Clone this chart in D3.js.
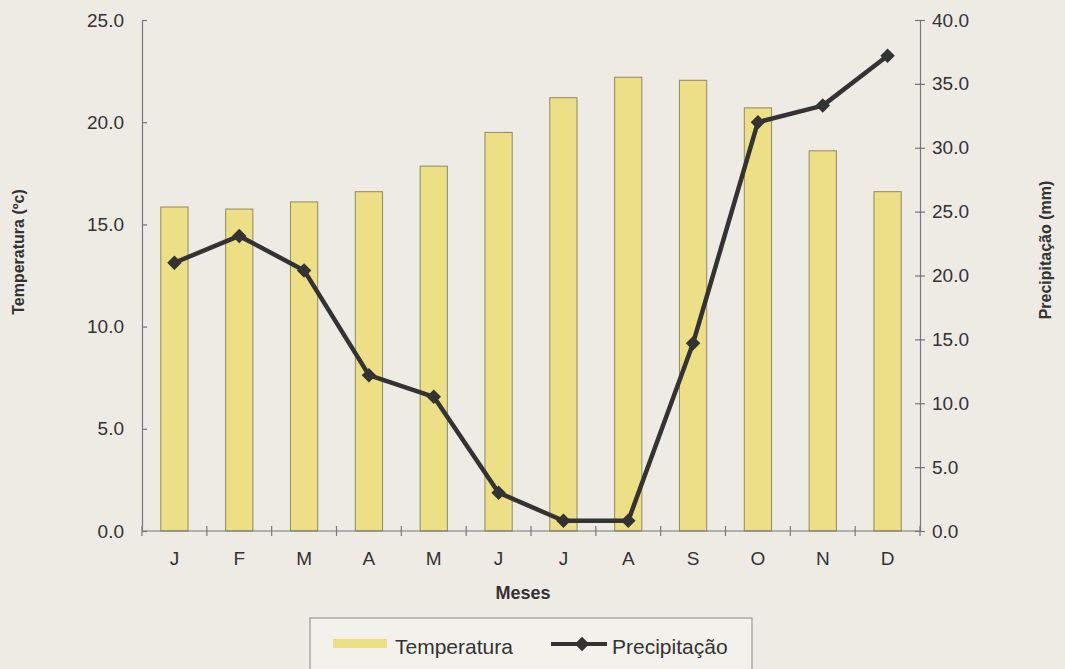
<!DOCTYPE html>
<meta charset="utf-8">
<style>
body { margin: 0; background: #eeebe5; }
svg { font-family: "Liberation Sans", Arial, sans-serif; }
.tick text { font-size: 19px; fill: #333; }
.axis path, .axis line { stroke: #777; stroke-width: 1.2; }
.title { font-size: 16px; font-weight: bold; fill: #333; }
</style>
<body>
<script src="https://d3js.org/d3.v7.min.js"></script>
<script>
var width = 1065
var height = 669

var months = ['J', 'F', 'M', 'A', 'M', 'J', 'J', 'A', 'S', 'O', 'N', 'D']
var temperatura = [15.85, 15.75, 16.1, 16.6, 17.85, 19.5, 21.2, 22.2, 22.05, 20.7, 18.6, 16.6]
var precipitacao = [21.0, 23.1, 20.4, 12.2, 10.5, 3.0, 0.8, 0.8, 14.7, 32.0, 33.3, 37.2]
var tempTicks = [0, 5, 10, 15, 20, 25]
var precTicks = [0, 5, 10, 15, 20, 25, 30, 35, 40]

var plotLeft = 142, plotRight = 920, plotTop = 20, plotBottom = 531

var svg = d3.select('body').append('svg')
    .attr('width', width)
    .attr('height', height)

var x = d3.scaleBand()
    .domain(d3.range(months.length))
    .range([plotLeft, plotRight])
    .paddingInner(0.58)
    .paddingOuter(0.29)

var xb = d3.scaleLinear().domain([0, months.length]).range([plotLeft, plotRight])

var yT = d3.scaleLinear().domain([0, 25]).range([plotBottom, plotTop])
var yP = d3.scaleLinear().domain([0, 40]).range([plotBottom, plotTop])

// bars
svg.append('g')
    .selectAll('rect')
    .data(temperatura)
    .enter().append('rect')
    .attr('x', function (d, i) { return x(i) })
    .attr('y', function (d) { return yT(d) })
    .attr('width', x.bandwidth())
    .attr('height', function (d) { return yT(0) - yT(d) })
    .attr('fill', '#ecdf86')
    .attr('stroke', '#8f8a62')
    .attr('stroke-width', 1)

// axes
var leftAxis = svg.append('g')
    .attr('class', 'axis')
    .attr('transform', 'translate(' + plotLeft + ',0)')
    .call(d3.axisLeft(yT).tickValues(tempTicks).tickFormat(d3.format('.1f')).tickSizeInner(5).tickSizeOuter(0).tickPadding(13))
leftAxis.selectAll('.tick line').attr('x2', 5)

var rightAxis = svg.append('g')
    .attr('class', 'axis')
    .attr('transform', 'translate(' + plotRight + ',0)')
    .call(d3.axisRight(yP).tickValues(precTicks).tickFormat(d3.format('.1f')).tickSizeInner(5).tickSizeOuter(0).tickPadding(7))
rightAxis.selectAll('.tick line').attr('x1', -5)

var xAxis = svg.append('g')
    .attr('class', 'axis')
    .attr('transform', 'translate(0,' + plotBottom + ')')
xAxis.append('line')
    .attr('x1', plotLeft).attr('x2', plotRight)
xAxis.selectAll('line.b')
    .data(d3.range(months.length + 1))
    .enter().append('line')
    .attr('class', 'b')
    .attr('x1', function (d) { return xb(d) })
    .attr('x2', function (d) { return xb(d) })
    .attr('y1', -5).attr('y2', 5)
xAxis.selectAll('text')
    .data(months)
    .enter().append('text')
    .attr('x', function (d, i) { return x(i) + x.bandwidth() / 2 })
    .attr('y', 34)
    .attr('text-anchor', 'middle')
    .style('font-size', '19px')
    .attr('fill', '#333')
    .text(function (d) { return d })

// line
var line = d3.line()
    .x(function (d, i) { return x(i) + x.bandwidth() / 2 })
    .y(function (d) { return yP(d) })

svg.append('path')
    .datum(precipitacao)
    .attr('d', line)
    .attr('fill', 'none')
    .attr('stroke', '#333')
    .attr('stroke-width', 4.5)
    .attr('stroke-linejoin', 'round')

var diamond = d3.symbol().type(d3.symbolSquare).size(105)
svg.append('g')
    .selectAll('path')
    .data(precipitacao)
    .enter().append('path')
    .attr('d', diamond)
    .attr('transform', function (d, i) { return 'translate(' + (x(i) + x.bandwidth() / 2) + ',' + yP(d) + ') rotate(45)' })
    .attr('fill', '#333')

// titles
svg.append('text')
    .attr('class', 'title')
    .attr('transform', 'translate(24,252) rotate(-90)')
    .attr('text-anchor', 'middle')
    .text('Temperatura (ºc)')

svg.append('text')
    .attr('class', 'title')
    .attr('transform', 'translate(1051,250) rotate(-90)')
    .attr('text-anchor', 'middle')
    .text('Precipitação (mm)')

svg.append('text')
    .attr('class', 'title')
    .attr('x', (plotLeft + plotRight) / 2 - 8)
    .attr('y', 599)
    .attr('text-anchor', 'middle')
    .style('font-size', '18px')
    .text('Meses')

// legend
var legend = svg.append('g')
legend.append('rect')
    .attr('x', 310).attr('y', 618)
    .attr('width', 442).attr('height', 60)
    .attr('fill', '#f3f1ec')
    .attr('stroke', '#888')
legend.append('rect')
    .attr('x', 333).attr('y', 639)
    .attr('width', 54).attr('height', 9)
    .attr('fill', '#ecdf86')
legend.append('text')
    .attr('x', 395).attr('y', 654)
    .style('font-size', '21px').attr('fill', '#333')
    .text('Temperatura')
legend.append('line')
    .attr('x1', 551).attr('x2', 607)
    .attr('y1', 644).attr('y2', 644)
    .attr('stroke', '#333').attr('stroke-width', 4)
legend.append('path')
    .attr('d', diamond)
    .attr('transform', 'translate(582,644) rotate(45)')
    .attr('fill', '#333')
legend.append('text')
    .attr('x', 612).attr('y', 654)
    .style('font-size', '21px').attr('fill', '#333')
    .text('Precipitação')
</script>
</body>
